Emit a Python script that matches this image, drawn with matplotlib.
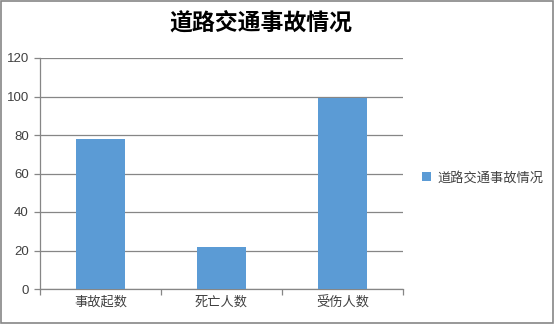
import matplotlib.pyplot as plt
from matplotlib.patches import Rectangle

plt.rcParams['font.family'] = ['Liberation Sans', 'Noto Sans CJK SC', 'DejaVu Sans']

categories = ['事故起数', '死亡人数', '受伤人数']
values = [78, 22, 99]
series_name = '道路交通事故情况'
yticks = [0, 20, 40, 60, 80, 100, 120]

grid_col = '#868686'
bar_col = '#5B9BD5'

fig = plt.figure(figsize=(5.55, 3.24), dpi=100)
ax = fig.add_axes([40 / 555, 35 / 324, 363 / 555, 231 / 324])

x = range(len(categories))
ax.bar(x, values, width=0.4, color=bar_col, label=series_name, zorder=3)

ax.set_xlim(-0.5, len(categories) - 0.5)
ax.set_ylim(0, 120)
ax.set_yticks(yticks)
ax.yaxis.grid(True, color=grid_col, linewidth=0.9, zorder=0)
# category boundaries get the tick marks, names sit between them
ax.set_xticks([i - 0.5 for i in range(len(categories) + 1)], minor=False)
ax.set_xticklabels([''] * (len(categories) + 1))
ax.set_xticks(list(x), minor=True)
ax.set_xticklabels(categories, minor=True, fontsize=9.5, color='#404040')
ax.tick_params(axis='x', which='minor', length=0, pad=5)
ax.tick_params(axis='x', which='major', length=4, color=grid_col, width=0.9)
ax.tick_params(axis='y', length=4, color=grid_col, width=0.9, labelsize=9.5, labelcolor='#404040', pad=4)

for side in ['top', 'right']:
    ax.spines[side].set_visible(False)
for side in ['left', 'bottom']:
    ax.spines[side].set_color(grid_col)
    ax.spines[side].set_linewidth(0.9)

fig.text(261 / 555, 0.928, series_name, ha='center', va='center', fontsize=16.5, fontweight='bold',
         family=['Noto Sans CJK SC', 'DejaVu Sans'])

ax.legend(loc='center left', bbox_to_anchor=(410 / 555, 146 / 324), bbox_transform=fig.transFigure,
          frameon=False, fontsize=9.5, handlelength=0.7, handleheight=0.7, handletextpad=0.5,
          labelcolor='#404040')

fig.patches.append(Rectangle((0.002, 0.003), 0.995, 0.994, transform=fig.transFigure,
                             fill=False, edgecolor=grid_col, linewidth=1.2))

fig.savefig('out.png', dpi=100)
